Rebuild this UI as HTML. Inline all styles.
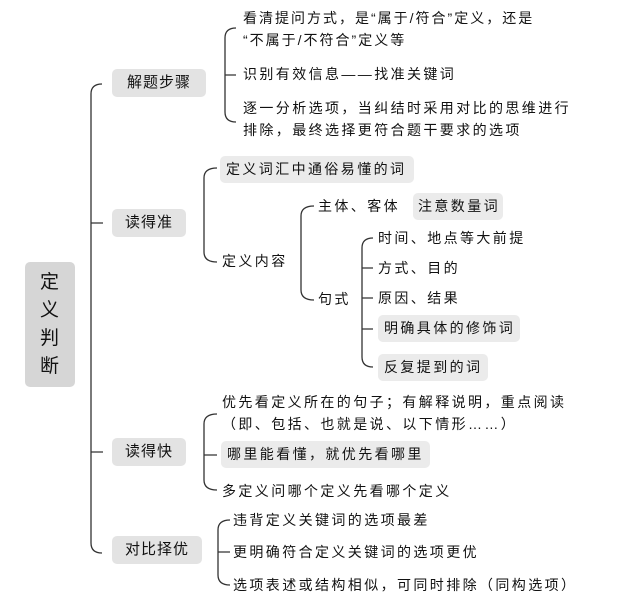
<!DOCTYPE html>
<html><head><meta charset="utf-8">
<style>
html,body{margin:0;padding:0;background:#fff;}
body{width:622px;height:614px;position:relative;overflow:hidden;font-family:"Liberation Sans","Noto Sans CJK SC",sans-serif;color:#111;}
.t{position:absolute;font-size:14px;line-height:20px;letter-spacing:2.4px;white-space:nowrap;}
.b{position:absolute;border-radius:5px;background:#e3e3e3;font-size:15px;line-height:28px;letter-spacing:1px;text-align:center;}
.l{position:absolute;border-radius:5px;background:#ebebeb;font-size:14px;letter-spacing:2.4px;white-space:nowrap;padding-left:6px;box-sizing:border-box;}
svg{position:absolute;left:0;top:0;}
</style></head><body>
<svg width="622" height="614" fill="none" stroke="#333" stroke-width="1.3">
<path d="M102 84 Q91 84 91 94 L91 543 Q91 553 102 553"/>
<path d="M91 223 H103 M91 452 H103"/>
<path d="M236 28 Q225 28 225 38 L225 112 Q225 122 236 122 M225 75 H236"/>
<path d="M217 168 Q204 168 204 178 L204 252 Q204 262 217 262"/>
<path d="M314 206 Q301 206 301 216 L301 290 Q301 300 314 300"/>
<path d="M373 238 Q362 238 362 248 L362 357 Q362 367 373 367 M362 268 H373 M362 298 H373 M362 329 H373"/>
<path d="M217 414 Q204 414 204 424 L204 480 Q204 490 217 490 M204 455 H217"/>
<path d="M230 520 Q218 520 218 530 L218 575 Q218 585 230 585 M218 552 H230"/>
</svg>

<div class="b" style="left:25px;top:262px;width:50px;height:125px;background:#d6d6d6;font-size:19px;line-height:28px;padding-top:7px;box-sizing:border-box;">定<br>义<br>判<br>断</div>

<div class="b" style="left:112px;top:69px;width:94px;height:28px;">解题步骤</div>
<div class="b" style="left:112px;top:209px;width:74px;height:28px;">读得准</div>
<div class="b" style="left:112px;top:438px;width:74px;height:28px;">读得快</div>
<div class="b" style="left:112px;top:536px;width:90px;height:28px;">对比择优</div>

<div class="t" style="left:243px;top:8px;letter-spacing:2px;">看清提问方式，是“属于/符合”定义，还是</div>
<div class="t" style="left:243px;top:30px;letter-spacing:2px;">“不属于/不符合”定义等</div>
<div class="t" style="left:243px;top:64px;">识别有效信息——找准关键词</div>
<div class="t" style="left:243px;top:98px;">逐一分析选项，当纠结时采用对比的思维进行</div>
<div class="t" style="left:243px;top:120px;">排除，最终选择更符合题干要求的选项</div>

<div class="l" style="left:220px;top:156px;width:194px;height:27px;line-height:27px;">定义词汇中通俗易懂的词</div>
<div class="t" style="left:222px;top:251px;">定义内容</div>
<div class="t" style="left:318px;top:196px;">主体、客体</div>
<div class="l" style="left:413px;top:193px;width:90px;height:27px;line-height:27px;padding-left:5px;">注意数量词</div>
<div class="t" style="left:318px;top:289px;">句式</div>
<div class="t" style="left:378px;top:228px;">时间、地点等大前提</div>
<div class="t" style="left:378px;top:258px;">方式、目的</div>
<div class="t" style="left:378px;top:288px;">原因、结果</div>
<div class="l" style="left:378px;top:315px;width:142px;height:27px;line-height:27px;">明确具体的修饰词</div>
<div class="l" style="left:378px;top:354px;width:110px;height:27px;line-height:27px;">反复提到的词</div>

<div class="t" style="left:222px;top:392px;">优先看定义所在的句子；有解释说明，重点阅读</div>
<div class="t" style="left:222px;top:414px;">（即、包括、也就是说、以下情形……）</div>
<div class="l" style="left:221px;top:441px;width:209px;height:27px;line-height:27px;">哪里能看懂，就优先看哪里</div>
<div class="t" style="left:222px;top:481px;">多定义问哪个定义先看哪个定义</div>

<div class="t" style="left:233px;top:510px;">违背定义关键词的选项最差</div>
<div class="t" style="left:233px;top:542px;">更明确符合定义关键词的选项更优</div>
<div class="t" style="left:233px;top:575px;">选项表述或结构相似，可同时排除（同构选项）</div>
</body></html>
